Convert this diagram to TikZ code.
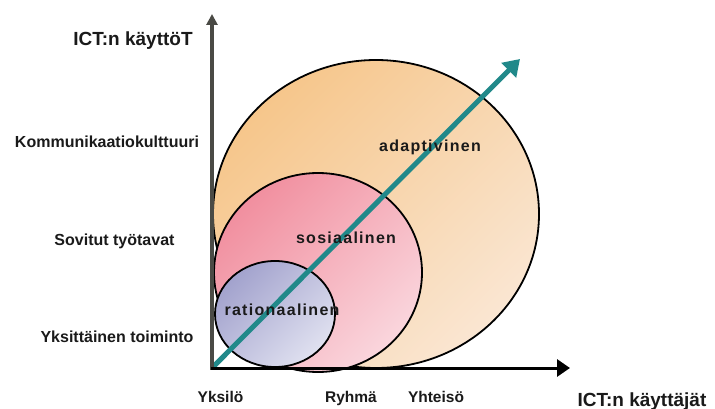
\documentclass[tikz,border=0pt]{standalone}
\usepackage{fontspec}
\setmainfont{Liberation Sans}
\usetikzlibrary{arrows.meta,shapes.geometric}
\definecolor{orangeA}{HTML}{F6C68B}
\definecolor{orangeB}{HTML}{FAE6D2}
\definecolor{pinkA}{HTML}{F18F9F}
\definecolor{pinkB}{HTML}{FAD6DD}
\definecolor{blueA}{HTML}{A2A2CD}
\definecolor{blueB}{HTML}{E0E1F0}
\definecolor{tealC}{HTML}{21898A}
\definecolor{axisgray}{HTML}{4A4A45}
\definecolor{txt}{HTML}{1A1A1A}
\begin{document}
\begin{tikzpicture}[x=1pt,y=-1pt,
  blob/.style={draw=black, line width=1.8pt, ellipse, inner sep=0pt},
  lbl/.style={font=\bfseries\fontsize{16}{19}\selectfont, text=txt, inner sep=0pt, anchor=base},
  axlbl/.style={font=\bfseries\fontsize{15.5}{18}\selectfont, text=txt, inner sep=0pt, anchor=base},
  inlbl/.style={font=\bfseries\fontsize{16}{19}\selectfont\addfontfeature{LetterSpace=8}, text=txt, inner sep=0pt, anchor=base},
  biglbl/.style={font=\bfseries\fontsize{19}{22}\selectfont, text=txt, inner sep=0pt, anchor=base}]
\useasboundingbox[fill=white] (0,0) rectangle (715,409);

% ellipses
\node[blob, minimum width=326pt, minimum height=308pt, top color=orangeA, bottom color=orangeB, shading angle=45] (adapt) at (376,214) {};
\node[blob, minimum width=208pt, minimum height=199pt, top color=pinkA, bottom color=pinkB, shading angle=45] (sos) at (318,272.5) {};
\node[blob, minimum width=120pt, minimum height=106pt, top color=blueA, bottom color=blueB, shading angle=45] (rat) at (275,314) {};

% axes
\coordinate (O) at (212,369);
\coordinate (ytop) at (212,14);
\coordinate (xend) at (570,368);
\coordinate (tstart) at (213,367);
\coordinate (tend) at (520,59);

\draw[tealC, line width=5pt, -{Triangle[width=20pt,length=16pt]}] (tstart) -- (tend);
\draw[axisgray, line width=3.5pt, -{Triangle[width=11pt,length=11pt]}] (212,369.5) -- (ytop);
\draw[black, line width=3pt, -{Triangle[width=17pt,length=13pt]}] (210.5,368) -- (xend);

% inner labels
\node[inlbl] (tA) at (430,152) {adaptivinen};
\node[inlbl] (tS) at (346,243) {sosiaalinen};
\node[inlbl] (tR) at (282,315) {rationaalinen};

% axis labels
\node[axlbl] (x1) at (220.5,402) {Yksilö};
\node[axlbl] (x2) at (351,402) {Ryhmä};
\node[axlbl] (x3) at (436,402) {Yhteisö};
\node[lbl] (y1) at (117,342) {Yksittäinen toiminto};
\node[lbl] (y2) at (114.5,245) {Sovitut työtavat};
\node[lbl] (y3) at (107,148) {Kommunikaatiokulttuuri};
\node[biglbl] (ylab) at (133,46) {ICT:n käyttöT};
\node[biglbl] (xlab) at (642,406) {ICT:n käyttäjät};
\end{tikzpicture}
\end{document}
